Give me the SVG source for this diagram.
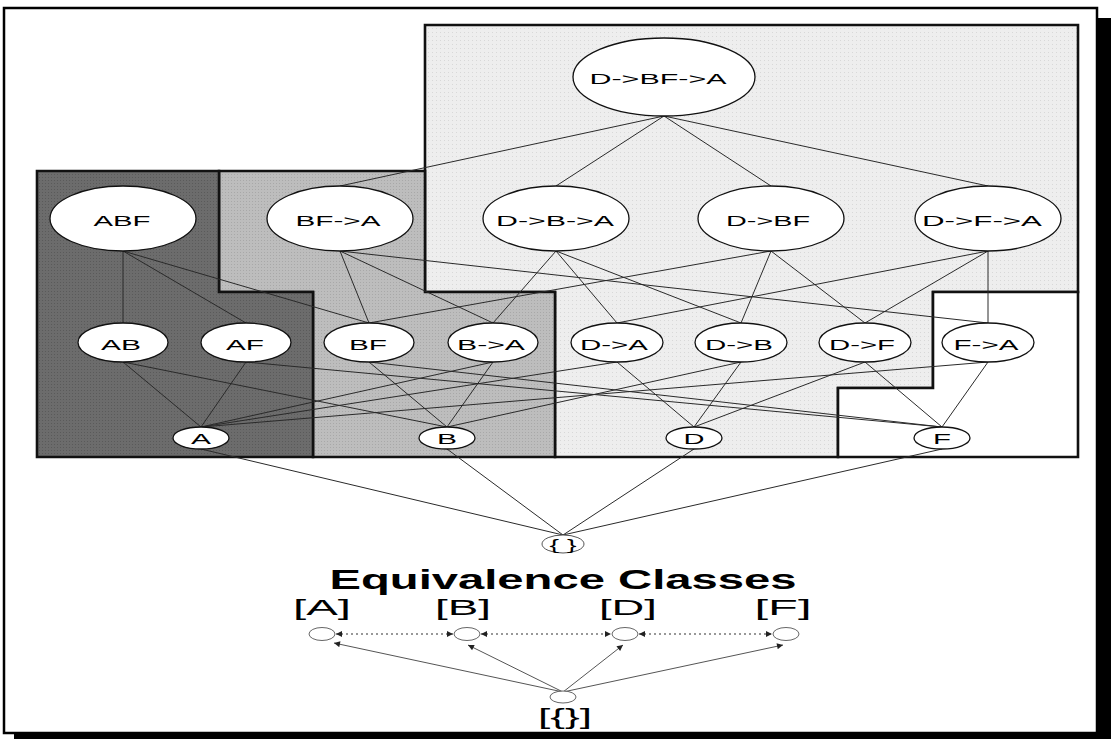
<svg xmlns="http://www.w3.org/2000/svg" width="1111" height="739" viewBox="0 0 1111 739">
  <style>
    .frame { fill: #ffffff; stroke: #000000; stroke-width: 2.5; }
    .region { stroke: #111111; stroke-width: 2.6; stroke-linejoin: miter; }
    .dark { fill: #6c6c6c; }
    .mid { fill: #bcbcbc; }
    .light { fill: #ececec; }
    .blank { fill: #ffffff; }
    .edge { stroke: #2a2a2a; stroke-width: 1; fill: none; }
    .node { fill: #ffffff; stroke: #111111; stroke-width: 1.3; }
    .lbl { font-family: "Liberation Sans", Arial, sans-serif; font-size: 15px; fill: #000000; text-anchor: middle; }
    .title { font-family: "Liberation Sans", Arial, sans-serif; font-size: 28px; font-weight: bold; fill: #000000; text-anchor: middle; }
    .cls { font-family: "Liberation Sans", Arial, sans-serif; font-size: 22px; fill: #000000; text-anchor: middle; }
    .small { fill: #ffffff; stroke: #555555; stroke-width: 0.9; }
    .link { stroke: #555555; stroke-width: 1; fill: none; }
    .dots { stroke: #333333; stroke-width: 1.2; stroke-dasharray: 2 3; fill: none; }
  </style>
  <defs>
    <marker id="head" viewBox="0 0 10 10" refX="10" refY="5" markerWidth="8" markerHeight="6" markerUnits="userSpaceOnUse" orient="auto-start-reverse">
      <path d="M0,0 L10,5 L0,10 z" fill="#222222"/>
    </marker>
    <!-- fine dot textures for the shaded areas -->
    <pattern id="texDark" width="3" height="3" patternUnits="userSpaceOnUse">
      <rect width="3" height="3" fill="#6c6c6c"/>
      <rect width="1" height="1" fill="#5a5a5a"/>
    </pattern>
    <pattern id="texMid" width="3" height="3" patternUnits="userSpaceOnUse">
      <rect width="3" height="3" fill="#bdbdbd"/>
      <rect width="1" height="1" fill="#a8a8a8"/>
    </pattern>
    <pattern id="texLight" width="4" height="4" patternUnits="userSpaceOnUse">
      <rect width="4" height="4" fill="#eeeeee"/>
      <rect width="1" height="1" fill="#d8d8d8"/>
    </pattern>
  </defs>

  <!-- page with drop shadow -->
  <rect x="14" y="18" width="1097" height="721" fill="#000000"/>
  <rect class="frame" x="4" y="8" width="1093" height="725"/>

  <!-- shaded class regions of the lattice -->
  <g id="regions">
    <path class="region" fill="url(#texLight)" d="M425,25 H1078 V292 H933 V388 H838 V457 H555 V292 H425 Z"/>
    <path class="region blank" d="M933,292 H1078 V457 H838 V388 H933 Z"/>
    <path class="region" fill="url(#texMid)" d="M219,171 H425 V292 H555 V457 H313 V292 H219 Z"/>
    <path class="region" fill="url(#texDark)" d="M37,171 H219 V292 H313 V457 H37 Z"/>
  </g>

  <!-- lattice edges -->
  <g id="connectors">
    <!-- top to level 3 -->
    <line class="edge" x1="664" y1="116" x2="340" y2="186"/>
    <line class="edge" x1="664" y1="116" x2="556" y2="186"/>
    <line class="edge" x1="664" y1="116" x2="771" y2="186"/>
    <line class="edge" x1="664" y1="116" x2="988" y2="186"/>
    <!-- level 3 to level 2 -->
    <line class="edge" x1="123" y1="251" x2="123" y2="323"/>
    <line class="edge" x1="123" y1="251" x2="246" y2="323"/>
    <line class="edge" x1="123" y1="251" x2="369" y2="323"/>
    <line class="edge" x1="340" y1="251" x2="369" y2="323"/>
    <line class="edge" x1="340" y1="251" x2="493" y2="323"/>
    <line class="edge" x1="340" y1="251" x2="988" y2="323"/>
    <line class="edge" x1="556" y1="251" x2="493" y2="323"/>
    <line class="edge" x1="556" y1="251" x2="617" y2="323"/>
    <line class="edge" x1="556" y1="251" x2="741" y2="323"/>
    <line class="edge" x1="771" y1="251" x2="369" y2="323"/>
    <line class="edge" x1="771" y1="251" x2="741" y2="323"/>
    <line class="edge" x1="771" y1="251" x2="865" y2="323"/>
    <line class="edge" x1="988" y1="251" x2="617" y2="323"/>
    <line class="edge" x1="988" y1="251" x2="865" y2="323"/>
    <line class="edge" x1="988" y1="251" x2="988" y2="323"/>
    <!-- level 2 to level 1 -->
    <line class="edge" x1="123" y1="362" x2="201" y2="427"/>
    <line class="edge" x1="123" y1="362" x2="447" y2="427"/>
    <line class="edge" x1="246" y1="362" x2="201" y2="427"/>
    <line class="edge" x1="246" y1="362" x2="942" y2="427"/>
    <line class="edge" x1="369" y1="362" x2="447" y2="427"/>
    <line class="edge" x1="369" y1="362" x2="942" y2="427"/>
    <line class="edge" x1="493" y1="362" x2="447" y2="427"/>
    <line class="edge" x1="493" y1="362" x2="201" y2="427"/>
    <line class="edge" x1="617" y1="362" x2="694" y2="427"/>
    <line class="edge" x1="617" y1="362" x2="201" y2="427"/>
    <line class="edge" x1="741" y1="362" x2="694" y2="427"/>
    <line class="edge" x1="741" y1="362" x2="447" y2="427"/>
    <line class="edge" x1="865" y1="362" x2="694" y2="427"/>
    <line class="edge" x1="865" y1="362" x2="942" y2="427"/>
    <line class="edge" x1="988" y1="362" x2="942" y2="427"/>
    <line class="edge" x1="988" y1="362" x2="201" y2="427"/>
    <!-- level 1 to empty set -->
    <line class="edge" x1="201" y1="449" x2="563" y2="535"/>
    <line class="edge" x1="447" y1="449" x2="563" y2="535"/>
    <line class="edge" x1="694" y1="449" x2="563" y2="535"/>
    <line class="edge" x1="942" y1="449" x2="563" y2="535"/>
    <!-- equivalence class links -->
    <line class="dots" x1="336" y1="634" x2="453" y2="634" marker-start="url(#head)" marker-end="url(#head)"/>
    <line class="dots" x1="481" y1="634" x2="611" y2="634" marker-start="url(#head)" marker-end="url(#head)"/>
    <line class="dots" x1="639" y1="634" x2="772" y2="634" marker-start="url(#head)" marker-end="url(#head)"/>
    <line class="link" x1="563" y1="692" x2="334" y2="643" marker-end="url(#head)"/>
    <line class="link" x1="563" y1="692" x2="468" y2="645" marker-end="url(#head)"/>
    <line class="link" x1="563" y1="692" x2="623" y2="645" marker-end="url(#head)"/>
    <line class="link" x1="563" y1="692" x2="783" y2="645" marker-end="url(#head)"/>
  </g>

  <!-- four-element sequence -->
  <g id="n-DBFA"><ellipse class="node" cx="664" cy="77" rx="91" ry="39"/><text class="lbl" x="658" y="84" textLength="137" lengthAdjust="spacingAndGlyphs">D-&gt;BF-&gt;A</text></g>

  <!-- three-element sequences -->
  <g id="n-ABF"><ellipse class="node" cx="123" cy="218.5" rx="73" ry="32.5"/><text class="lbl" x="122" y="226" textLength="57" lengthAdjust="spacingAndGlyphs">ABF</text></g>
  <g id="n-BFA"><ellipse class="node" cx="340" cy="218.5" rx="73" ry="32.5"/><text class="lbl" x="338" y="226" textLength="85" lengthAdjust="spacingAndGlyphs">BF-&gt;A</text></g>
  <g id="n-DBA"><ellipse class="node" cx="556" cy="218.5" rx="73" ry="32.5"/><text class="lbl" x="555" y="226" textLength="118" lengthAdjust="spacingAndGlyphs">D-&gt;B-&gt;A</text></g>
  <g id="n-DBF"><ellipse class="node" cx="771" cy="218.5" rx="73" ry="32.5"/><text class="lbl" x="768" y="226" textLength="84" lengthAdjust="spacingAndGlyphs">D-&gt;BF</text></g>
  <g id="n-DFA"><ellipse class="node" cx="988" cy="218.5" rx="73" ry="32.5"/><text class="lbl" x="982" y="226" textLength="120" lengthAdjust="spacingAndGlyphs">D-&gt;F-&gt;A</text></g>

  <!-- two-element sequences -->
  <g id="n-AB"><ellipse class="node" cx="123" cy="342.5" rx="45" ry="19.5"/><text class="lbl" x="121" y="350" textLength="40" lengthAdjust="spacingAndGlyphs">AB</text></g>
  <g id="n-AF"><ellipse class="node" cx="246" cy="342.5" rx="45" ry="19.5"/><text class="lbl" x="245" y="350" textLength="38" lengthAdjust="spacingAndGlyphs">AF</text></g>
  <g id="n-BF"><ellipse class="node" cx="369" cy="342.5" rx="45" ry="19.5"/><text class="lbl" x="368" y="350" textLength="38" lengthAdjust="spacingAndGlyphs">BF</text></g>
  <g id="n-BA"><ellipse class="node" cx="493" cy="342.5" rx="45" ry="19.5"/><text class="lbl" x="491" y="350" textLength="68" lengthAdjust="spacingAndGlyphs">B-&gt;A</text></g>
  <g id="n-DA"><ellipse class="node" cx="617" cy="342.5" rx="46" ry="19.5"/><text class="lbl" x="614" y="350" textLength="68" lengthAdjust="spacingAndGlyphs">D-&gt;A</text></g>
  <g id="n-DB"><ellipse class="node" cx="741" cy="342.5" rx="46" ry="19.5"/><text class="lbl" x="739" y="350" textLength="68" lengthAdjust="spacingAndGlyphs">D-&gt;B</text></g>
  <g id="n-DF"><ellipse class="node" cx="865" cy="342.5" rx="46" ry="19.5"/><text class="lbl" x="862" y="350" textLength="66" lengthAdjust="spacingAndGlyphs">D-&gt;F</text></g>
  <g id="n-FA"><ellipse class="node" cx="988" cy="342.5" rx="46" ry="19.5"/><text class="lbl" x="986" y="350" textLength="65" lengthAdjust="spacingAndGlyphs">F-&gt;A</text></g>

  <!-- single items -->
  <g id="n-A"><ellipse class="node" cx="201" cy="438" rx="28" ry="11"/><text class="lbl" x="201" y="444" textLength="20" lengthAdjust="spacingAndGlyphs">A</text></g>
  <g id="n-B"><ellipse class="node" cx="447" cy="438" rx="28" ry="11"/><text class="lbl" x="447" y="444" textLength="20" lengthAdjust="spacingAndGlyphs">B</text></g>
  <g id="n-D"><ellipse class="node" cx="694" cy="438" rx="28" ry="11"/><text class="lbl" x="694" y="444" textLength="21" lengthAdjust="spacingAndGlyphs">D</text></g>
  <g id="n-F"><ellipse class="node" cx="942" cy="438" rx="28" ry="11"/><text class="lbl" x="942" y="444" textLength="18" lengthAdjust="spacingAndGlyphs">F</text></g>

  <!-- empty sequence -->
  <g id="n-empty"><ellipse cx="563" cy="544" rx="21" ry="9" fill="#ffffff" stroke="#555555" stroke-width="1"/><text class="lbl" x="563" y="550" font-size="14" textLength="27" lengthAdjust="spacingAndGlyphs">{ }</text></g>

  <!-- equivalence classes -->
  <text class="title" x="563" y="589" textLength="467" lengthAdjust="spacingAndGlyphs">Equivalence Classes</text>
  <g id="c-A"><ellipse class="small" cx="322" cy="634" rx="13" ry="6.5"/><text class="cls" x="322" y="615" textLength="58" lengthAdjust="spacingAndGlyphs">[A]</text></g>
  <g id="c-B"><ellipse class="small" cx="467" cy="634" rx="13" ry="6.5"/><text class="cls" x="463" y="615" textLength="56" lengthAdjust="spacingAndGlyphs">[B]</text></g>
  <g id="c-D"><ellipse class="small" cx="625" cy="634" rx="13" ry="6.5"/><text class="cls" x="628" y="615" textLength="58" lengthAdjust="spacingAndGlyphs">[D]</text></g>
  <g id="c-F"><ellipse class="small" cx="786" cy="634" rx="13" ry="6.5"/><text class="cls" x="783" y="615" textLength="57" lengthAdjust="spacingAndGlyphs">[F]</text></g>
  <g id="c-empty"><ellipse class="small" cx="563" cy="697" rx="13" ry="6"/><text class="cls" x="565" y="724" font-size="20" textLength="54" lengthAdjust="spacingAndGlyphs">[{}]</text></g>
</svg>
